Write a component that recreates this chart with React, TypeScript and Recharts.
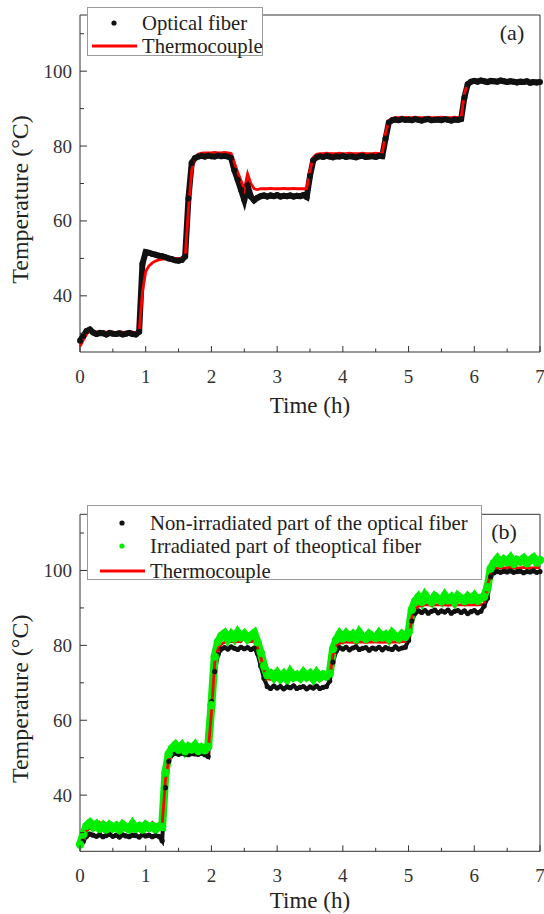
import React from "react";
import { ComposedChart, Line, XAxis, YAxis, ReferenceArea, Legend } from "recharts";

// sampling step of every series below (hours)
const STEP = 0.05;

// panel (a)
const fiberA = [
  28.0, 29.3, 30.6, 31.0, 30.2, 29.8, 30.1, 30.0, 29.7, 30.1,
  29.9, 29.8, 30.0, 29.7, 29.9, 30.1, 29.8, 29.7, 30.4, 48.5,
  51.7, 51.5, 51.2, 51.0, 50.7, 50.6, 50.3, 50.0, 49.8, 49.5,
  49.4, 49.6, 50.5, 66.0, 75.5, 76.8, 77.2, 77.4, 77.2, 77.5,
  77.3, 77.2, 77.5, 77.3, 77.4, 77.2, 76.8, 73.5, 71.0, 68.3,
  65.6, 69.5, 66.5, 65.5, 66.2, 66.6, 66.8, 66.5, 66.8, 66.6,
  66.9, 66.5, 66.7, 66.6, 66.8, 66.5, 66.7, 66.6, 66.9, 66.4,
  72.0, 76.2, 77.0, 77.3, 77.1, 77.4, 77.2, 77.0, 77.3, 77.2,
  77.4, 77.1, 77.3, 77.2, 77.0, 77.3, 77.4, 77.1, 77.2, 77.3,
  77.1, 77.4, 77.3, 82.0, 86.3, 86.9, 87.1, 86.9, 87.2, 87.0,
  87.1, 86.9, 87.2, 87.0, 86.8, 87.1, 87.2, 86.9, 87.0, 87.1,
  86.9, 87.2, 87.0, 86.8, 87.1, 87.0, 87.2, 93.0, 96.5, 97.2,
  97.4, 97.2, 97.5, 97.3, 97.1, 97.4, 97.3, 97.2, 97.5, 97.3,
  97.1, 97.3, 97.2, 97.0, 97.2, 97.1, 97.3, 96.9, 97.1, 97.0,
  97.1,
];
const thermoA = [
  26.5, 28.2, 29.8, 30.6, 30.4, 30.3, 30.2, 30.3, 30.3, 30.2,
  30.3, 30.2, 30.3, 30.3, 30.2, 30.4, 30.3, 30.2, 30.4, 41.0,
  46.5, 48.0, 48.8, 49.3, 49.6, 49.8, 49.9, 50.0, 50.0, 50.0,
  50.0, 50.0, 50.3, 63.0, 73.5, 76.8, 77.8, 78.1, 78.2, 78.2,
  78.2, 78.3, 78.2, 78.2, 78.3, 78.2, 78.0, 75.5, 73.0, 70.8,
  68.4, 72.6, 70.0, 68.6, 68.4, 68.6, 68.6, 68.6, 68.7, 68.6,
  68.6, 68.6, 68.7, 68.6, 68.6, 68.7, 68.6, 68.6, 68.6, 68.7,
  73.5, 77.0, 77.8, 78.0, 78.0, 78.1, 78.0, 78.0, 78.0, 78.1,
  78.0, 78.0, 78.1, 78.0, 78.0, 78.0, 78.1, 78.0, 78.0, 78.0,
  78.1, 78.0, 78.1, 83.5, 86.8, 87.4, 87.6, 87.6, 87.7, 87.6,
  87.6, 87.6, 87.7, 87.6, 87.6, 87.6, 87.7, 87.6, 87.6, 87.6,
  87.7, 87.6, 87.6, 87.6, 87.7, 87.6, 87.7, 94.0, 96.8, 97.3,
  97.3, 97.2, 97.3, 97.2, 97.3, 97.2, 97.2, 97.3, 97.2, 97.2,
  97.3, 97.2, 97.2, 97.2, 97.1, 97.2, 97.1, 97.1, 97.2, 97.1,
  97.1,
];

// panel (b)
const plainB = [
  26.5, 27.6, 29.0, 29.6, 29.3, 29.0, 29.4, 28.9, 29.2, 29.5,
  29.0, 29.3, 28.8, 29.4, 29.1, 28.9, 29.3, 29.2, 28.8, 29.4,
  29.1, 29.3, 28.9, 29.2, 29.0, 27.8, 42.0, 49.0, 50.8, 51.2,
  50.9, 51.2, 51.0, 50.8, 51.1, 51.0, 50.9, 51.2, 50.8, 50.3,
  65.0, 73.0, 77.5, 79.0, 79.4, 79.0, 79.6, 79.2, 78.9, 79.5,
  79.1, 79.4, 78.9, 79.3, 77.8, 74.5, 71.2, 69.0, 68.5, 69.1,
  68.6, 69.0, 68.4, 68.9, 68.7, 69.2, 68.5, 68.8, 69.0, 68.4,
  68.9, 68.6, 69.1, 68.5, 68.8, 69.0, 70.5, 75.5, 78.5, 79.4,
  79.0, 79.5, 78.8, 79.3, 79.6, 78.9, 79.2, 79.4, 78.7, 79.3,
  79.0, 79.5, 78.8, 79.4, 79.1, 78.9, 79.6, 79.0, 79.3, 79.5,
  81.3, 86.5, 88.6, 89.2, 88.8, 89.3, 88.6, 89.1, 89.4, 88.7,
  89.2, 88.9, 89.4, 88.6, 89.1, 89.3, 88.8, 89.2, 88.5, 89.0,
  89.3, 88.7, 89.1, 90.5, 92.6, 98.3, 99.4, 99.7, 99.5, 99.8,
  99.6, 99.9, 99.5, 99.7, 99.8, 99.4, 99.7, 99.6, 99.9, 99.5,
  99.7,
];
const irradB = [
  26.8, 29.5, 31.8, 32.6, 31.5, 32.2, 31.0, 31.9, 30.8, 32.0,
  31.2, 31.8, 30.7, 32.1, 31.4, 30.9, 32.3, 31.1, 31.7, 30.8,
  32.0, 31.3, 31.8, 30.9, 31.6, 31.5, 46.0, 51.0, 52.5, 53.4,
  52.1, 53.2, 51.7, 52.9, 52.2, 53.3, 51.8, 52.7, 52.0, 52.9,
  64.0, 77.0, 81.0, 82.5, 83.2, 81.6, 82.9, 81.8, 83.4, 82.1,
  83.0, 81.7, 82.6, 83.3, 80.8, 78.0, 74.5, 72.0, 72.5, 71.4,
  72.6, 71.2, 72.3, 71.0, 72.8, 71.5, 72.1, 71.3, 72.7, 71.6,
  72.4, 71.1, 72.6, 71.4, 72.2, 71.7, 72.5, 79.0, 81.5, 83.0,
  81.8, 83.1, 82.0, 82.9, 81.6, 83.4, 82.2, 81.7, 83.0, 82.3,
  81.9, 83.2, 82.1, 82.8, 81.7, 83.3, 82.4, 81.8, 83.0, 82.2,
  83.5, 89.5, 91.8, 92.9, 91.6, 93.4, 92.2, 91.5, 93.1, 92.4,
  91.7, 93.3, 92.0, 92.8, 91.5, 93.2, 92.5, 91.8, 93.0, 92.1,
  93.2, 91.9, 92.7, 93.0, 95.5, 100.5, 102.0, 103.1, 101.8, 102.9,
  102.2, 103.3, 101.7, 102.8, 102.4, 103.2, 101.9, 102.7, 103.4, 102.1,
  102.8,
];
const thermoB = [
  27.0, 28.5, 30.5, 31.2, 31.3, 31.3, 32.6, 31.3, 31.4, 31.3,
  31.3, 31.4, 31.3, 31.3, 31.4, 31.3, 31.3, 31.4, 31.3, 31.3,
  31.4, 31.3, 32.6, 31.4, 31.4, 32.0, 44.0, 49.5, 50.8, 51.2,
  51.3, 51.4, 51.4, 51.3, 52.6, 51.4, 51.4, 51.3, 51.4, 51.5,
  62.0, 75.5, 79.0, 80.3, 80.8, 82.3, 81.0, 81.0, 81.1, 81.0,
  82.0, 81.0, 81.0, 81.1, 79.5, 76.8, 73.5, 71.0, 70.9, 71.1,
  71.2, 71.2, 71.1, 71.2, 71.2, 71.3, 71.2, 71.2, 71.1, 71.2,
  71.2, 71.3, 71.2, 71.2, 71.2, 71.3, 71.4, 77.5, 79.8, 80.5,
  80.8, 80.9, 80.9, 80.8, 80.9, 80.9, 80.9, 80.8, 80.9, 80.9,
  80.9, 80.9, 80.8, 80.9, 80.9, 80.9, 80.9, 80.9, 81.0, 81.0,
  81.5, 87.5, 89.8, 90.4, 90.7, 90.8, 90.8, 90.7, 90.8, 90.8,
  90.8, 90.8, 90.7, 90.8, 90.8, 90.8, 90.8, 90.9, 90.8, 90.8,
  90.9, 90.8, 90.9, 91.0, 96.0, 99.3, 100.3, 100.6, 100.7, 100.7,
  100.7, 100.8, 100.7, 100.7, 100.7, 100.8, 100.7, 100.7, 100.7, 100.8,
  100.7,
];

const xTicks = [0, 0.5, 1, 1.5, 2, 2.5, 3, 3.5, 4, 4.5, 5, 5.5, 6, 6.5, 7];
const yTicks = [30, 40, 50, 60, 70, 80, 90, 100, 110];
const yLabelled = [40, 60, 80, 100];

const FONT = '"Liberation Serif", serif';
const INK = "#222";
const AXIS = "#333";

const table = (cols: Record<string, number[]>) => {
  const keys = Object.keys(cols);
  return cols[keys[0]].map((_, i) => {
    const row: Record<string, number> = { t: +(i * STEP).toFixed(2) };
    keys.forEach((k) => (row[k] = cols[k][i]));
    return row;
  });
};

const XTick = (props: any) => {
  const { x, y, payload } = props;
  const major = Number.isInteger(payload.value);
  return (
    <g>
      <line x1={x} x2={x} y1={y} y2={y - (major ? 6 : 3.5)} stroke={AXIS} />
      {major && (
        <text x={x} y={y + 24} textAnchor="middle" dominantBaseline="central"
          style={{ fontFamily: FONT }} fontSize={19} fill={AXIS}>
          {payload.value}
        </text>
      )}
    </g>
  );
};

const YTick = (props: any) => {
  const { x, y, payload } = props;
  const major = yLabelled.includes(payload.value);
  return (
    <g>
      <line x1={x} x2={x + (major ? 7 : 4)} y1={y} y2={y} stroke={AXIS} />
      {major && (
        <text x={x - 8} y={y} textAnchor="end" dominantBaseline="central"
          style={{ fontFamily: FONT }} fontSize={19} fill={AXIS}>
          {payload.value}
        </text>
      )}
    </g>
  );
};

type Item = { name: string; color: string; kind: "dot" | "line" };
type Box = { w: number; h: number; rows: number[]; mark: number; lineFrom: number; lineTo: number; text: number };

const LegendBox = ({ items, box }: { items: Item[]; box: Box }) => (
  <div style={{
    position: "relative", width: box.w, height: box.h, boxSizing: "border-box",
    border: "1px solid #9a9a9a", background: "#fff", fontFamily: FONT, fontSize: 20.7, color: INK,
  }}>
    {items.map((it, i) => (
      <div key={it.name} style={{ position: "absolute", left: 0, top: box.rows[i] - 12, height: 24, width: "100%" }}>
        <svg width={box.text} height={24} style={{ position: "absolute", left: 0, top: 0 }}>
          {it.kind === "dot" ? (
            <circle cx={box.mark} cy={12} r={2.6} fill={it.color} />
          ) : (
            <line x1={box.lineFrom} x2={box.lineTo} y1={12} y2={12} stroke={it.color} strokeWidth={2.8} />
          )}
        </svg>
        <span style={{ position: "absolute", left: box.text, top: 0, lineHeight: "24px", whiteSpace: "nowrap" }}>
          {it.name}
        </span>
      </div>
    ))}
  </div>
);

const yTitle = (p: any) => {
  const vb = p.viewBox;
  const cx = vb.x + 20;
  const cy = vb.y + vb.height / 2 + 16;
  return (
    <text x={cx} y={cy} transform={`rotate(-90, ${cx}, ${cy})`} textAnchor="middle" dominantBaseline="central"
      style={{ fontFamily: FONT }} fontSize={24} fill={INK}>
      Temperature (°C)
    </text>
  );
};

const xTitle = (gap: number) => (p: any) => {
  const vb = p.viewBox;
  return (
    <text x={vb.x + vb.width / 2} y={vb.y + gap} textAnchor="middle" dominantBaseline="central"
      style={{ fontFamily: FONT }} fontSize={23} fill={INK}>
      Time (h)
    </text>
  );
};

const Panel = ({ data, top, height, marginTop, series, items, box, legendTop, tag, tagX, tagY, titleGap }: any) => (
  <div style={{ position: "absolute", left: 0, top, width: 544, height }}>
    <ComposedChart width={544} height={height} data={data}
      margin={{ top: marginTop, right: 4, bottom: height - marginTop - 337 - 60, left: 0 }}>
      <XAxis dataKey="t" type="number" domain={[0, 7]} ticks={xTicks} interval={0} height={60}
        axisLine={false} tickLine={false} tickSize={0} tickMargin={0} tick={<XTick />}
        label={{ content: xTitle(titleGap) }} />
      <YAxis type="number" domain={[25, 115]} ticks={yTicks} interval={0} width={80}
        axisLine={false} tickLine={false} tickSize={0} tickMargin={0} tick={<YTick />}
        label={{ content: yTitle }} />
      <ReferenceArea x1={0} x2={7} y1={25} y2={115} fill="none" stroke={AXIS} strokeWidth={1} ifOverflow="visible" />
      {series.map((s: any) =>
        s.kind === "dot" ? (
          // dense measurement cloud: a thick trace plus its sample dots
          <Line key={s.key} dataKey={s.key} type="linear" stroke={s.color} strokeWidth={s.w}
            isAnimationActive={false} dot={{ r: s.r, fill: s.color, stroke: "none" }} activeDot={false} />
        ) : (
          <Line key={s.key} dataKey={s.key} type="linear" stroke={s.color} strokeWidth={2.8}
            dot={false} activeDot={false} isAnimationActive={false} />
        )
      )}
      <Legend layout="vertical" align="center" verticalAlign="middle"
        wrapperStyle={{ left: 87, top: legendTop }}
        content={() => <LegendBox items={items} box={box} />} />
    </ComposedChart>
    <div style={{
      position: "absolute", left: tagX, top: tagY, transform: "translate(-50%, -50%)",
      fontFamily: FONT, fontSize: 22, color: INK,
    }}>{tag}</div>
  </div>
);

export default function App() {
  const dataA = table({ fiber: fiberA, thermo: thermoA });
  const dataB = table({ plain: plainB, irrad: irradB, thermo: thermoB });

  return (
    <div style={{ position: "absolute", left: 0, top: 0, width: 544, height: 914, background: "#fff", overflow: "hidden" }}>
      <Panel
        data={dataA} top={0} height={430} marginTop={15} titleGap={53}
        series={[
          { key: "fiber", kind: "dot", color: "#111", r: 3, w: 6 },
          { key: "thermo", kind: "line", color: "#ff0000" },
        ]}
        items={[
          { name: "Optical fiber", color: "#111", kind: "dot" },
          { name: "Thermocouple", color: "#ff0000", kind: "line" },
        ]}
        box={{ w: 176, h: 49, rows: [15, 38], mark: 26, lineFrom: 4, lineTo: 49, text: 54 }}
        legendTop={7} tag="(a)" tagX={512} tagY={33}
      />
      <Panel
        data={dataB} top={490} height={424} marginTop={24.3} titleGap={49}
        series={[
          { key: "plain", kind: "dot", color: "#111", r: 2.6, w: 4 },
          { key: "irrad", kind: "dot", color: "#00ee00", r: 4.2, w: 8 },
          { key: "thermo", kind: "line", color: "#ff0000" },
        ]}
        items={[
          { name: "Non-irradiated part of the optical fiber", color: "#111", kind: "dot" },
          { name: "Irradiated part of theoptical fiber", color: "#00ee00", kind: "dot" },
          { name: "Thermocouple", color: "#ff0000", kind: "line" },
        ]}
        box={{ w: 395, h: 75, rows: [16.7, 40, 65], mark: 34, lineFrom: 12, lineTo: 57, text: 62 }}
        legendTop={15} tag="(b)" tagX={504} tagY={42}
      />
    </div>
  );
}
